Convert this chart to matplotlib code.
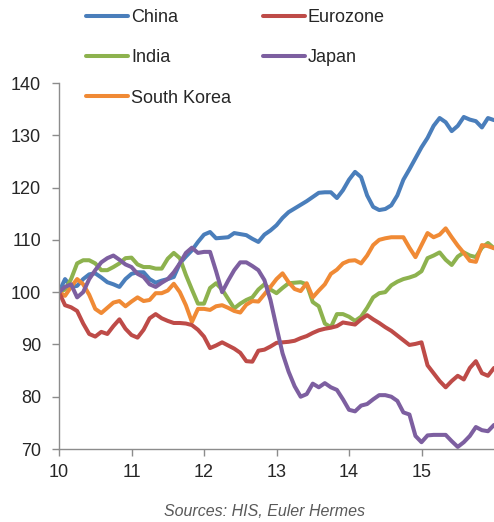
import matplotlib
matplotlib.use("Agg")
import matplotlib.pyplot as plt
import numpy as np

plt.rcParams['font.family'] = ['Liberation Sans', 'DejaVu Sans']

# monthly index values, Jan 2010 = 100 (x: 10 = 2010 ... 16 = end 2015)
months = np.arange(73)
china = [100, 102.5, 101, 101.2, 102.5, 103.4, 103.6, 102.8, 101.9, 101.5,
         101, 102.5, 103.5, 103.8, 103.8, 102.5, 101.8, 102.2, 102.5, 102.9,
         105.5, 106.8, 108, 109.6, 111, 111.5, 110.3, 110.4, 110.5, 111.3,
         111.1, 110.9, 110.2, 109.6, 111, 111.8, 112.8, 114.2, 115.3, 116,
         116.7, 117.4, 118.2, 119, 119.1, 119.1, 118, 119.5, 121.5, 123,
         122, 118.5, 116.3, 115.7, 115.9, 116.6, 118.5, 121.5, 123.5, 125.6,
         127.7, 129.5, 131.8, 133.3, 132.5, 130.8, 131.8, 133.5, 133, 132.7,
         131.5, 133.3, 132.9]
eurozone = [100, 97.5, 97.1, 96.4, 94, 92, 91.5, 92.4, 92, 93.5,
            94.8, 93, 91.8, 91.3, 92.8, 95, 95.8, 95, 94.5, 94.1,
            94.1, 94, 93.7, 92.8, 91.5, 89.3, 89.8, 90.4, 89.8, 89.2,
            88.4, 86.8, 86.7, 88.8, 89, 89.6, 90.3, 90.4, 90.5, 90.7,
            91.2, 91.6, 92.2, 92.7, 93, 93.2, 93.5, 94.2, 94, 93.8,
            94.8, 95.6, 94.8, 94.1, 93.3, 92.6, 91.7, 90.8, 89.9, 90.1,
            90.4, 86, 84.5, 83, 81.8, 83, 84, 83.3, 85.5, 86.8,
            84.5, 84, 85.5]
india = [100, 100.5, 102.5, 105.5, 106.1, 106.1, 105.5, 104.2, 104.2, 104.8,
         105.5, 106.5, 106.6, 105.3, 104.8, 104.8, 104.5, 104.5, 106.4, 107.5,
         106.5, 103.3, 100.5, 97.8, 97.8, 100.8, 101.7, 100.5, 98.7, 96.9,
         97.8, 98.5, 99, 100.5, 101.5, 100.5, 99.8, 100.8, 101.7, 101.8,
         101.9, 101.5, 98.1, 97.3, 94, 93.3, 95.8, 95.8, 95.3, 94.5,
         95.3, 97, 99, 99.8, 100, 101.3, 102, 102.5, 102.8, 103.2,
         104, 106.5, 107, 107.6, 106.2, 105.2, 106.8, 107.6, 107, 106.7,
         108.5, 109.4, 108.4]
japan = [100, 101, 101.5, 99, 100, 102.5, 104.2, 105.7, 106.5, 107,
         106.2, 105.3, 104.8, 103.5, 102.9, 101.5, 101, 101.8, 102.5, 103.8,
         105.5, 107.5, 108.5, 107.5, 107.7, 107.7, 104, 100, 102.2, 104.2,
         105.7, 105.7, 105, 104.2, 102.3, 98.5, 93.3, 88.3, 84.8, 82,
         80, 80.5, 82.5, 81.8, 82.6, 81.8, 81.3, 79.5, 77.5, 77.2,
         78.3, 78.6, 79.5, 80.3, 80.3, 80, 79.2, 77, 76.6, 72.5,
         71.3, 72.6, 72.7, 72.7, 72.7, 71.5, 70.4, 71.3, 72.5, 74.2,
         73.6, 73.4, 74.6]
south_korea = [100, 99.3, 101, 102.5, 101.5, 99.5, 96.8, 96, 97, 98,
               98.3, 97.3, 98.2, 99, 98.3, 98.5, 99.8, 99.8, 100.3, 101.6,
               100, 97.5, 94.3, 96.8, 96.8, 96.6, 97.3, 97.5, 97, 96.4,
               96.1, 97.6, 98.3, 98.2, 99.6, 101, 102.5, 103.6, 101.9, 100.6,
               100.2, 101.7, 99, 100.3, 101.5, 103.5, 104.3, 105.5, 106, 106.1,
               105.5, 107, 109, 110, 110.3, 110.5, 110.5, 110.5, 108.5, 106.7,
               109, 111.3, 110.5, 111, 112.2, 110.5, 108.9, 107.5, 106, 105.8,
               109, 108.8, 108.4]

series = [("China", china, "#4A7EBB"),
          ("India", india, "#8DB24E"),
          ("South Korea", south_korea, "#F08A35"),
          ("Eurozone", eurozone, "#BE4B48"),
          ("Japan", japan, "#7D5FA0")]

x_ticks = [10, 11, 12, 13, 14, 15]
x_labels = ["10", "11", "12", "13", "14", "15"]
y_ticks = [70, 80, 90, 100, 110, 120, 130, 140]

W, H = 494, 522
fig = plt.figure(figsize=(W / 100, H / 100), dpi=100)
ax = fig.add_axes([59 / W, 1 - 449 / H, (W - 59) / W, (449 - 83) / H])

x = 10 + months / 12
for name, vals, col in series:
    ax.plot(x, vals, color=col, lw=2.9, label=name, solid_joinstyle='round',
            solid_capstyle='round')

ax.set_xlim(10, 16)
ax.set_ylim(70, 140)
ax.set_xticks(x_ticks)
ax.set_xticklabels(x_labels)
ax.set_yticks(y_ticks)
for s in ['top', 'right']:
    ax.spines[s].set_visible(False)
for s in ['left', 'bottom']:
    ax.spines[s].set_color('#8c8c8c')
    ax.spines[s].set_linewidth(1.0)
ax.tick_params(axis='both', colors='#8c8c8c', length=5, width=1.0,
               labelsize=13, labelcolor='#262626')
ax.tick_params(axis='y', pad=8)
ax.tick_params(axis='x', pad=6)

leg = fig.legend(loc='upper left', bbox_to_anchor=(86 / W, 1 - 9 / H),
                 ncol=2, frameon=False, fontsize=13, handlelength=2.33,
                 handletextpad=0.17, labelspacing=1.29, columnspacing=1.75,
                 borderpad=0, borderaxespad=0)
for t in leg.get_texts():
    t.set_color('#262626')

fig.text(264 / W, 1 - 511 / H, "Sources: HIS, Euler Hermes", ha='center',
         va='center', fontsize=11.5, style='italic', color='#595959')

fig.savefig("out.png", dpi=100)
